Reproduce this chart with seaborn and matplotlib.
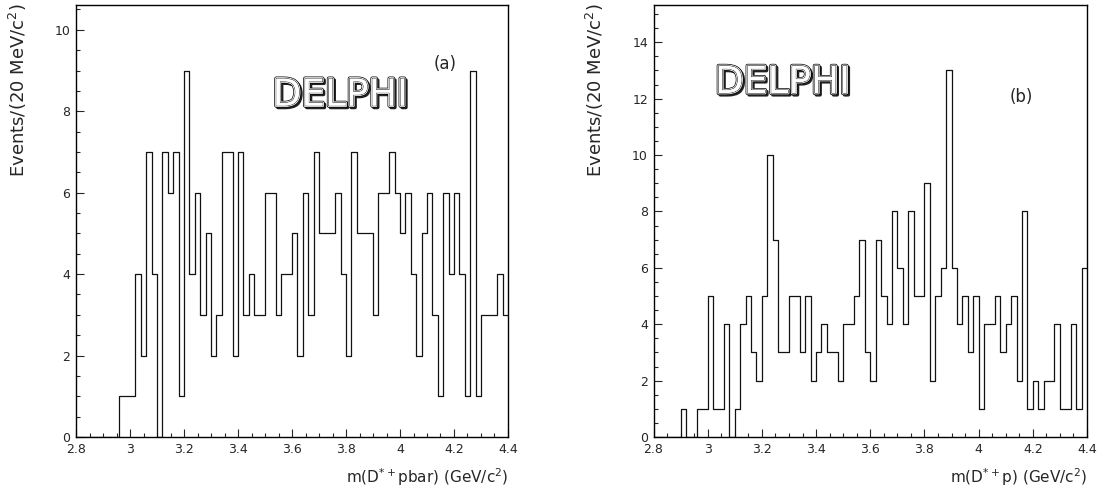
import numpy as np
import pandas as pd
import matplotlib
matplotlib.use("Agg")
import matplotlib.pyplot as plt
import matplotlib.patheffects as pe
from matplotlib.ticker import MultipleLocator, FormatStrFormatter
import seaborn as sns

# Histogram binning: 20 MeV bins from 2.8 to 4.4 GeV
bin_lo = 2.8
bin_hi = 4.4
bin_width = 0.02
n_bins = 80

# Counts per bin
counts_a = [0, 0, 0, 0, 0, 0, 0, 0, 1, 1,
            1, 4, 2, 7, 4, 0, 7, 6, 7, 1,
            9, 4, 6, 3, 5, 2, 3, 7, 7, 2,
            7, 3, 4, 3, 3, 6, 6, 3, 4, 4,
            5, 2, 6, 3, 7, 5, 5, 5, 6, 4,
            2, 7, 5, 5, 5, 3, 6, 6, 7, 6,
            5, 6, 4, 2, 5, 6, 3, 1, 6, 4,
            6, 4, 1, 9, 1, 3, 3, 3, 4, 3]

counts_b = [0, 0, 0, 0, 0, 1, 0, 0, 1, 1,
            5, 1, 1, 4, 0, 1, 4, 5, 3, 2,
            5, 10, 7, 3, 3, 5, 5, 3, 5, 2,
            3, 4, 3, 3, 2, 4, 4, 5, 7, 3,
            2, 7, 5, 4, 8, 6, 4, 8, 5, 5,
            9, 2, 5, 6, 13, 6, 4, 5, 3, 5,
            1, 4, 4, 5, 3, 4, 5, 2, 8, 1,
            2, 1, 2, 2, 4, 1, 1, 4, 1, 6]

xlabels = ["m(D$^{*+}$pbar) (GeV/c$^2$)", "m(D$^{*+}$p) (GeV/c$^2$)"]
ylabel = "Events/(20 MeV/c$^2$)"
tags = ["(a)", "(b)"]

sns.set_style("ticks")
plt.rcParams['font.family'] = ['DejaVu Sans']

centers = bin_lo + bin_width * (np.arange(n_bins) + 0.5)

W, H = 1098, 491
fig = plt.figure(figsize=(W / 100, H / 100), dpi=100)
ax_a = fig.add_axes([76 / W, 54 / H, 432 / W, 432 / H])
ax_b = fig.add_axes([653.5 / W, 54 / H, 433.5 / W, 432 / H])

panels = [(ax_a, counts_a, 10.61, (3.778, 8.38), (4.167, 9.17), 18),
          (ax_b, counts_b, 15.32, (3.276, 12.55), (4.157, 12.06), 595)]

for i, (ax, counts, ytop, logo_xy, tag_xy, ylab_x) in enumerate(panels):
    df = pd.DataFrame({'mass': centers, 'n': counts})
    sns.histplot(data=df, x='mass', weights='n', bins=n_bins,
                 binrange=(bin_lo, bin_hi), element='step',
                 fill=False, color='#111111', linewidth=0.9, ax=ax)
    ax.set_xlim(bin_lo, bin_hi)
    ax.set_ylim(0, ytop)
    ax.set_xlabel("")
    ax.set_ylabel("")
    for s in ax.spines.values():
        s.set_visible(True)
        s.set_linewidth(1.0)
        s.set_color('black')
    ax.xaxis.set_major_locator(MultipleLocator(0.2))
    ax.xaxis.set_minor_locator(MultipleLocator(0.05))
    ax.yaxis.set_major_locator(MultipleLocator(2))
    ax.yaxis.set_minor_locator(MultipleLocator(0.5))
    ax.xaxis.set_major_formatter(FormatStrFormatter('%g'))
    ax.yaxis.set_major_formatter(FormatStrFormatter('%g'))
    ax.tick_params(which='major', direction='in', length=5.8, width=0.8,
                   labelsize=9, pad=4, top=False, right=False)
    ax.tick_params(which='minor', direction='in', length=3.2, width=0.8,
                   top=False, right=False)

    # DELPHI logo, outlined letters
    ax.text(logo_xy[0], logo_xy[1], "DELPHI", ha='center', va='center',
            fontsize=27, color='white',
            path_effects=[pe.Stroke(linewidth=2.6, foreground='#222222', offset=(1.2, -1.2)),
                          pe.Stroke(linewidth=2.8, foreground='black'),
                          pe.Stroke(linewidth=1.8, foreground='white'),
                          pe.Stroke(linewidth=0.6, foreground='black'),
                          pe.Normal()])
    ax.text(tag_xy[0], tag_xy[1], tags[i], ha='center', va='center', fontsize=12)

    # axis titles
    pos = ax.get_position()
    fig.text(pos.x1, 1 - 477 / H, xlabels[i], ha='right', va='center', fontsize=11)
    fig.text(ylab_x / W, 1 - 3 / H, ylabel, rotation=90, ha='center', va='top',
             fontsize=13)

fig.savefig("out.png", dpi=100)
